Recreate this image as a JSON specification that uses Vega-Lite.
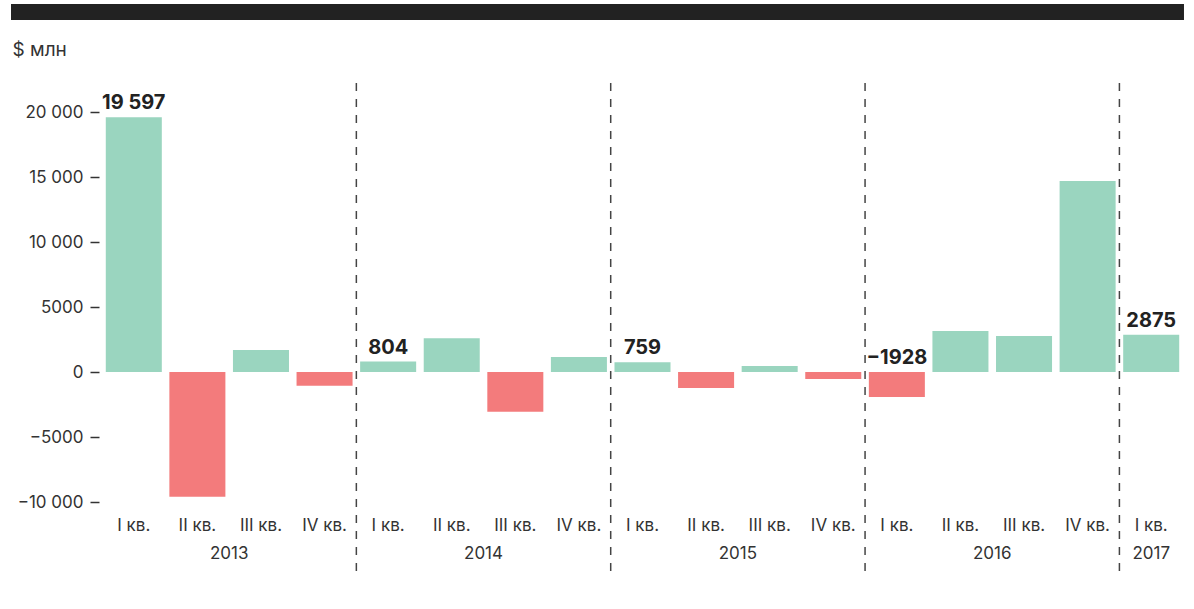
{
  "$schema": "https://vega.github.io/schema/vega-lite/v6.json",
  "width": 1081,
  "height": 390,
  "autosize": {"type": "none"},
  "padding": {"left": 102, "top": 112, "right": 11, "bottom": 107},
  "background": "white",
  "config": {"view": {"stroke": null}, "font": "Inter", "axis": {"labelFont": "Inter", "titleFont": "Inter"}},
  "data": {"values": [
    {"key": "2013 I кв.", "year": "2013", "quarter": "I кв.", "value": 19597},
    {"key": "2013 II кв.", "year": "2013", "quarter": "II кв.", "value": -9600},
    {"key": "2013 III кв.", "year": "2013", "quarter": "III кв.", "value": 1690},
    {"key": "2013 IV кв.", "year": "2013", "quarter": "IV кв.", "value": -1050},
    {"key": "2014 I кв.", "year": "2014", "quarter": "I кв.", "value": 804},
    {"key": "2014 II кв.", "year": "2014", "quarter": "II кв.", "value": 2600},
    {"key": "2014 III кв.", "year": "2014", "quarter": "III кв.", "value": -3050},
    {"key": "2014 IV кв.", "year": "2014", "quarter": "IV кв.", "value": 1150},
    {"key": "2015 I кв.", "year": "2015", "quarter": "I кв.", "value": 759},
    {"key": "2015 II кв.", "year": "2015", "quarter": "II кв.", "value": -1230},
    {"key": "2015 III кв.", "year": "2015", "quarter": "III кв.", "value": 460},
    {"key": "2015 IV кв.", "year": "2015", "quarter": "IV кв.", "value": -540},
    {"key": "2016 I кв.", "year": "2016", "quarter": "I кв.", "value": -1928},
    {"key": "2016 II кв.", "year": "2016", "quarter": "II кв.", "value": 3150},
    {"key": "2016 III кв.", "year": "2016", "quarter": "III кв.", "value": 2770},
    {"key": "2016 IV кв.", "year": "2016", "quarter": "IV кв.", "value": 14700},
    {"key": "2017 I кв.", "year": "2017", "quarter": "I кв.", "value": 2875}
  ]},
  "encoding": {
    "x": {
      "field": "key", "type": "ordinal", "sort": null,
      "scale": {
        "domain": ["2013 I кв.", "2013 II кв.", "2013 III кв.", "2013 IV кв.",
                   "2014 I кв.", "2014 II кв.", "2014 III кв.", "2014 IV кв.",
                   "2015 I кв.", "2015 II кв.", "2015 III кв.", "2015 IV кв.",
                   "2016 I кв.", "2016 II кв.", "2016 III кв.", "2016 IV кв.",
                   "2017 I кв."],
        "paddingInner": 0, "paddingOuter": 0
      },
      "axis": {"title": null, "domain": false, "ticks": false, "labelAngle": 0, "labelPadding": 15,
               "labelFontSize": 17, "labelColor": "#333333", "labelExpr": "substring(datum.value, 5)"}
    }
  },
  "layer": [
    {
      "mark": {"type": "rect", "color": "#222222", "xOffset": -91, "x2Offset": 32},
      "encoding": {
        "x": {"datum": "2013 I кв.", "type": "ordinal", "bandPosition": 0},
        "x2": {"datum": "2017 I кв."},
        "y": {"datum": 28300, "type": "quantitative"},
        "y2": {"datum": 27080}
      }
    },
    {
      "mark": {"type": "bar", "width": {"band": 0.881}},
      "encoding": {
        "y": {
          "field": "value", "type": "quantitative",
          "scale": {"domain": [-10000, 20000], "nice": false, "zero": false},
          "axis": {
            "values": [-10000, -5000, 0, 5000, 10000, 15000, 20000],
            "title": "$ млн", "titleAngle": 0, "titleAlign": "left", "titleBaseline": "alphabetic",
            "titleX": -87, "titleY": -57, "titleFontSize": 19, "titleFontWeight": "normal", "titleColor": "#333333",
            "domain": false, "grid": false, "tickSize": 9, "tickWidth": 1.5, "tickColor": "#333333",
            "offset": 3, "labelPadding": 7, "labelFontSize": 17, "labelColor": "#333333",
            "labelExpr": "abs(datum.value) >= 10000 ? replace(datum.label, ',', ' ') : replace(datum.label, ',', '')"
          }
        },
        "y2": {"datum": 0},
        "color": {"condition": {"test": "datum.value < 0", "value": "#f37b7c"}, "value": "#9ad5bf"}
      }
    },
    {
      "transform": [
        {"filter": "datum.quarter == 'I кв.' && datum.year != '2013'"}
      ],
      "mark": {"type": "rule", "color": "#444444", "strokeWidth": 1.5, "strokeDash": [8, 8]},
      "encoding": {
        "x": {"field": "key", "type": "ordinal", "sort": null, "bandPosition": 0},
        "y": {"datum": 22230},
        "y2": {"datum": -15380}
      }
    },
    {
      "transform": [
        {"filter": "datum.quarter == 'I кв.'"},
        {"calculate": "max(datum.value, 0)", "as": "ly"},
        {"calculate": "abs(datum.value) >= 10000 ? replace(format(datum.value, ','), ',', ' ') : format(datum.value, 'd')", "as": "lbl"}
      ],
      "mark": {"type": "text", "fontSize": 20, "fontWeight": "bold", "color": "#222222", "baseline": "alphabetic", "align": "center", "dy": -8},
      "encoding": {
        "y": {"field": "ly", "type": "quantitative"},
        "text": {"field": "lbl"}
      }
    },
    {
      "transform": [{"filter": "datum.quarter == 'III кв.'"}],
      "mark": {"type": "text", "fontSize": 17, "color": "#333333", "baseline": "alphabetic", "align": "center", "dy": 57},
      "encoding": {
        "x": {"field": "key", "type": "ordinal", "sort": null, "bandPosition": 0},
        "y": {"datum": -10000},
        "text": {"field": "year"}
      }
    },
    {
      "transform": [{"filter": "datum.key == '2017 I кв.'"}],
      "mark": {"type": "text", "fontSize": 17, "color": "#333333", "baseline": "alphabetic", "align": "center", "dy": 57},
      "encoding": {
        "y": {"datum": -10000},
        "text": {"field": "year"}
      }
    }
  ]
}
